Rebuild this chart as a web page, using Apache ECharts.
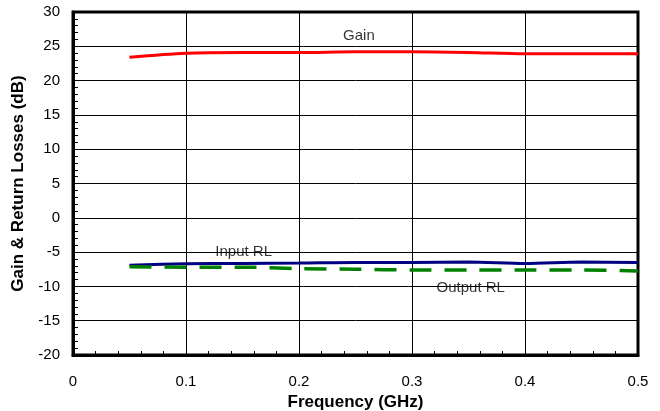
<!DOCTYPE html>
<html><head><meta charset="utf-8">
<script src="https://cdn.jsdelivr.net/npm/echarts@6/dist/echarts.min.js"></script>
<style>html,body{margin:0;padding:0;background:#fff}#c{width:660px;height:411px}</style>
</head><body><div id="c"></div>
<script>
const freq = [0.05, 0.1, 0.15, 0.2, 0.25, 0.3, 0.35, 0.4, 0.45, 0.5];
const gain = [23.4, 24.0, 24.1, 24.1, 24.2, 24.2, 24.1, 23.9, 23.9, 23.9];
const inputRL = [-6.9, -6.7, -6.65, -6.6, -6.5, -6.5, -6.45, -6.65, -6.45, -6.5];
const outputRL = [-7.15, -7.2, -7.2, -7.4, -7.5, -7.6, -7.6, -7.6, -7.6, -7.75];
const xTicks = [0, 0.1, 0.2, 0.3, 0.4, 0.5];
const yTicks = [-20, -15, -10, -5, 0, 5, 10, 15, 20, 25, 30];
const noteText = ['Gain', 'Input RL', 'Output RL'];
const noteX = [0.253, 0.151, 0.352];
const noteY = [26.5, -4.9, -10.2];
const font = 'Liberation Sans, Arial, sans-serif';
const pair = (xs, ys) => xs.map((x, i) => [x, ys[i]]);
const chart = echarts.init(document.getElementById('c'));
chart.setOption({
  animation: false,
  grid: {left: 73, right: 22, top: 12, bottom: 56, show: true, borderColor: '#000', borderWidth: 3,
         containLabel: false, outerBoundsMode: 'none'},
  xAxis: {
    type: 'value', min: 0, max: 0.5, interval: 0.1,
    name: 'Frequency (GHz)', nameLocation: 'middle', nameGap: 36,
    nameTextStyle: {fontFamily: font, fontWeight: 'bold', fontSize: 17, color: '#000'},
    axisLine: {show: true, onZero: false, lineStyle: {color: '#000', width: 3}},
    axisTick: {show: false, inside: true},
    minorTick: {show: true, splitNumber: 5, length: 4, lineStyle: {color: '#000', width: 1}},
    axisLabel: {fontFamily: font, fontSize: 15, color: '#000', margin: 19,
      formatter: v => xTicks.includes(Math.round(v * 10) / 10) ? String(Math.round(v * 10) / 10) : ''},
    splitLine: {show: true, lineStyle: {color: '#000', width: 1}}
  },
  yAxis: {
    type: 'value', min: -20, max: 30, interval: 5,
    name: 'Gain & Return Losses (dB)', nameLocation: 'middle', nameGap: 46,
    nameTextStyle: {fontFamily: font, fontWeight: 'bold', fontSize: 17, color: '#000'},
    axisLine: {show: true, onZero: false, lineStyle: {color: '#000', width: 3}},
    axisTick: {show: false, inside: true},
    minorTick: {show: true, splitNumber: 5, length: 5, lineStyle: {color: '#000', width: 1}},
    axisLabel: {fontFamily: font, fontSize: 15, color: '#000', margin: 13,
      formatter: v => yTicks.includes(v) ? String(v) : ''},
    splitLine: {show: true, lineStyle: {color: '#000', width: 1}}
  },
  series: [
    {type: 'line', data: pair(freq, gain), symbol: 'none', smooth: 0.3,
     lineStyle: {color: '#ff0000', width: 3}},
    {type: 'line', data: pair(freq, inputRL), symbol: 'none', smooth: 0.3,
     lineStyle: {color: '#000080', width: 3}},
    {type: 'line', data: pair(freq, outputRL), symbol: 'none', smooth: 0.3,
     lineStyle: {color: '#008000', width: 3.5, type: [22, 13]}},
    {type: 'scatter', symbolSize: 1, itemStyle: {color: 'rgba(0,0,0,0)'}, silent: true,
     data: noteText.map((t, i) => ({value: [noteX[i], noteY[i]], name: t})),
     label: {show: true, position: 'inside', formatter: p => p.name,
       fontFamily: font, fontSize: 15, color: '#000'}}
  ]
});
</script></body></html>
